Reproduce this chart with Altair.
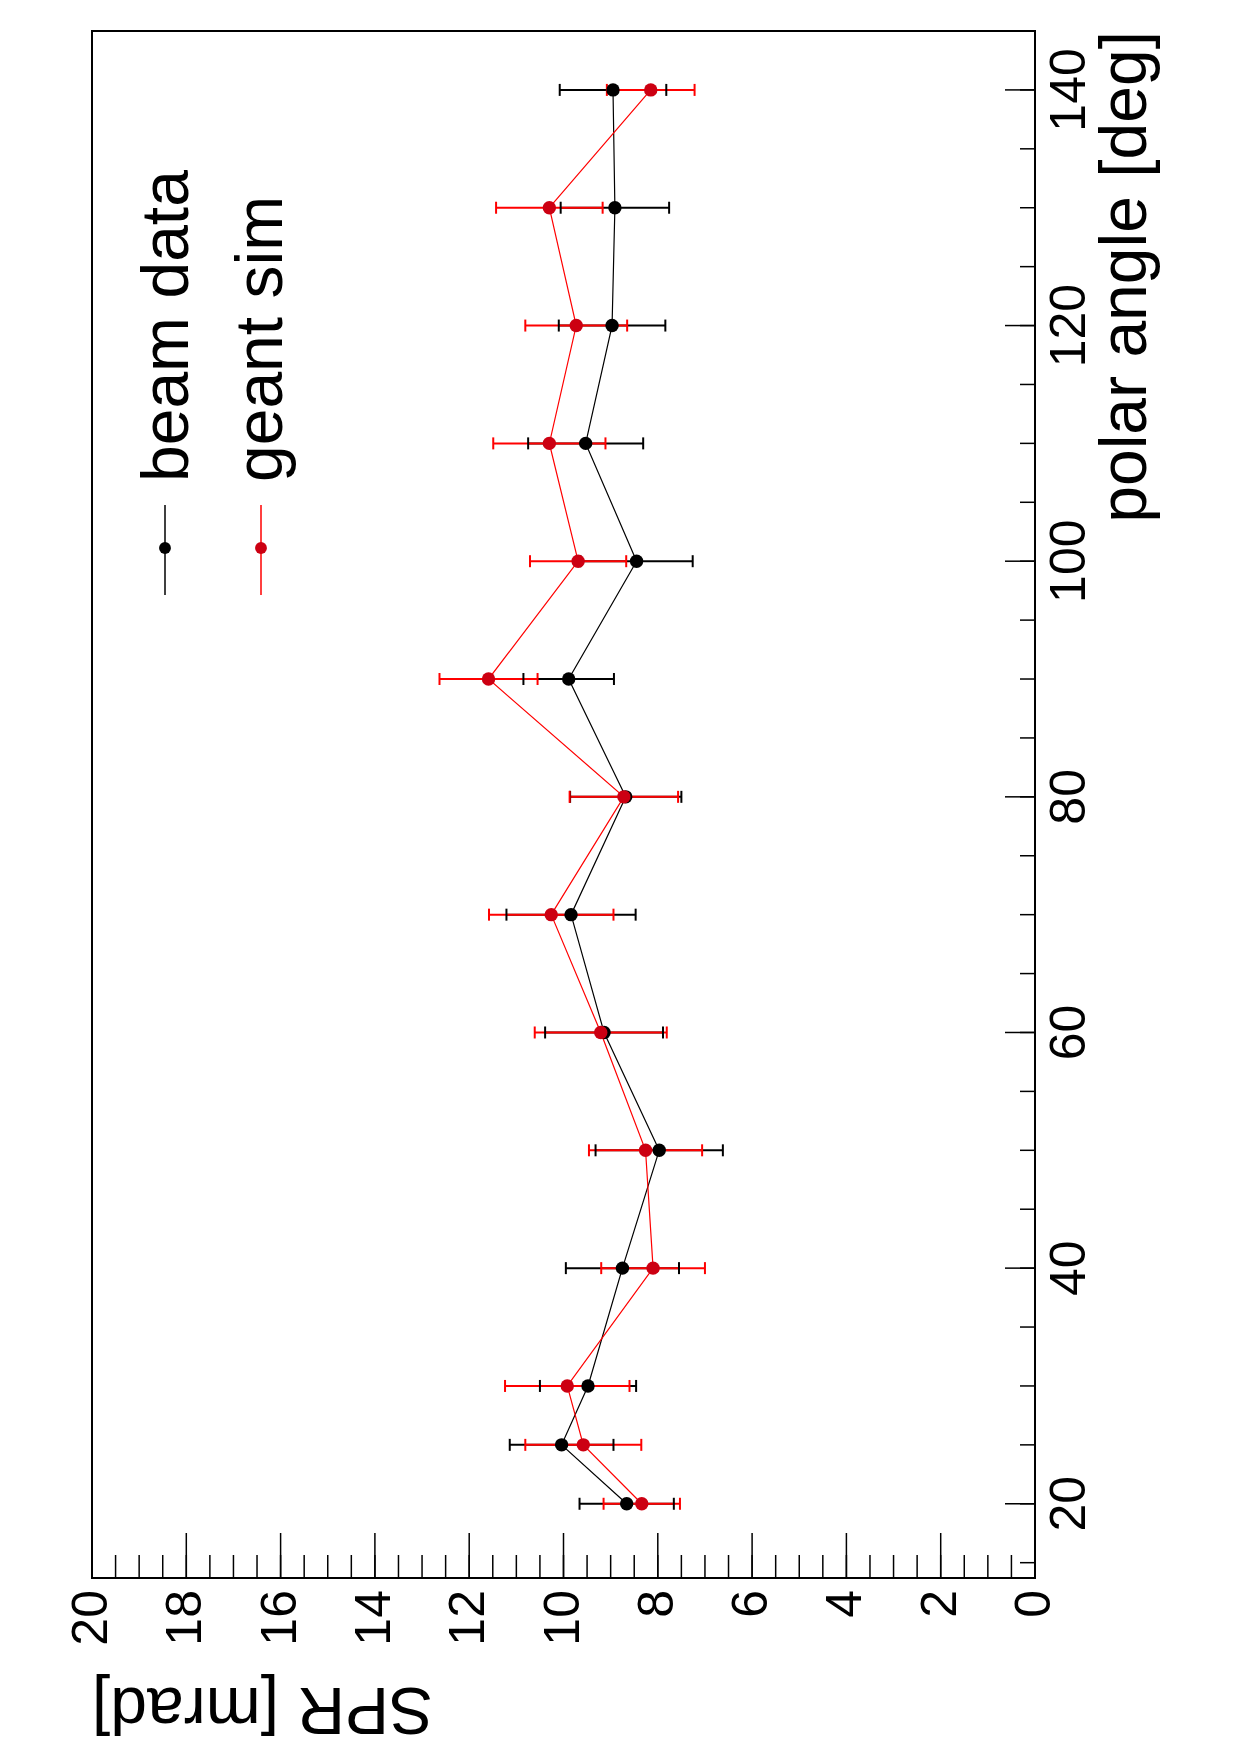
import altair as alt
import pandas as pd

# ---------------- data ----------------
angles = [20, 25, 30, 40, 50, 60, 70, 80, 90, 100, 110, 120, 130, 140]
beam_spr = [8.66, 10.04, 9.48, 8.75, 7.97, 9.14, 9.84, 8.68, 9.89, 8.45, 9.53, 8.97, 8.91, 8.95]
beam_err = [1.00, 1.10, 1.02, 1.20, 1.35, 1.25, 1.37, 1.18, 0.96, 1.19, 1.22, 1.13, 1.15, 1.13]
sim_spr = [8.34, 9.58, 9.92, 8.10, 8.26, 9.21, 10.26, 8.72, 11.59, 9.69, 10.30, 9.73, 10.30, 8.15]
sim_err = [0.81, 1.23, 1.32, 1.10, 1.20, 1.40, 1.32, 1.15, 1.04, 1.02, 1.19, 1.08, 1.13, 0.93]
series_names = ["beam data", "geant sim"]

spr_major_ticks = [0, 2, 4, 6, 8, 10, 12, 14, 16, 18, 20]
spr_minor_ticks = [i * 0.5 for i in range(41)]
angle_major_ticks = [20, 40, 60, 80, 100, 120, 140]
angle_minor_ticks = [15 + 5 * i for i in range(27)]
x_title = "SPR [mrad]"
y_title = "polar angle [deg]"

line_colors = ["#000000", "#ff0000"]
marker_colors = ["#000000", "#cc0012"]
FONT = "Liberation Sans"

W, H = 943, 1547

rows = []
for name, vals, errs in [(series_names[0], beam_spr, beam_err), (series_names[1], sim_spr, sim_err)]:
    for a, v, e in zip(angles, vals, errs):
        rows.append({"series": name, "angle": a, "spr": v, "lo": v - e, "hi": v + e})
df = pd.DataFrame(rows)

xscale = alt.Scale(domain=[0, 20], reverse=True, nice=False, zero=False)
yscale = alt.Scale(domain=[13.7, 145.0], nice=False, zero=False)
stroke_enc = alt.Stroke("series:N", scale=alt.Scale(domain=series_names, range=line_colors), legend=None)
fill_enc = alt.Fill("series:N", scale=alt.Scale(domain=series_names, range=marker_colors), legend=None)

base = alt.Chart(df)

bars = base.mark_rule(strokeWidth=2).encode(
    x=alt.X("lo:Q", scale=xscale, axis=None),
    x2="hi:Q",
    y=alt.Y("angle:Q", scale=yscale, axis=None),
    stroke=stroke_enc,
)
cap_lo = base.mark_rule(strokeWidth=2, yOffset=-6, y2Offset=6).encode(
    x=alt.X("lo:Q", scale=xscale, axis=None),
    y=alt.Y("angle:Q", scale=yscale, axis=None),
    y2="angle:Q",
    stroke=stroke_enc,
)
cap_hi = base.mark_rule(strokeWidth=2, yOffset=-6, y2Offset=6).encode(
    x=alt.X("hi:Q", scale=xscale, axis=None),
    y=alt.Y("angle:Q", scale=yscale, axis=None),
    y2="angle:Q",
    stroke=stroke_enc,
)
lines = base.mark_line(strokeWidth=1.2).encode(
    x=alt.X("spr:Q", scale=xscale, axis=None),
    y=alt.Y("angle:Q", scale=yscale, axis=None),
    stroke=stroke_enc,
    detail="series:N",
    order=alt.Order("angle:Q"),
)
points = base.mark_circle(size=180, opacity=1).encode(
    x=alt.X("spr:Q", scale=xscale, axis=None),
    y=alt.Y("angle:Q", scale=yscale, axis=None),
    fill=fill_enc,
)

# inward tick marks (ROOT style)
def xticks(vals, length):
    return alt.Chart(pd.DataFrame({"v": vals})).mark_rule(color="black", strokeWidth=1.5).encode(
        x=alt.X("v:Q", scale=xscale, axis=None),
        y=alt.value(H), y2=alt.value(H - length),
    )

def yticks(vals, length):
    return alt.Chart(pd.DataFrame({"v": vals})).mark_rule(color="black", strokeWidth=1.5).encode(
        y=alt.Y("v:Q", scale=yscale, axis=None),
        x=alt.value(W), x2=alt.value(W - length),
    )

tick_layers = [xticks(spr_minor_ticks, 23), xticks(spr_major_ticks, 45),
               yticks(angle_minor_ticks, 15), yticks(angle_major_ticks, 30)]

# tick labels (rotated like the reference)
xlab = alt.Chart(pd.DataFrame({"v": spr_major_ticks, "t": [str(v) for v in spr_major_ticks]})).mark_text(
    font=FONT, fontSize=50, angle=270, align="right", baseline="middle", color="black"
).encode(x=alt.X("v:Q", scale=xscale, axis=None), y=alt.value(H + 12), text="t:N")
ylab = alt.Chart(pd.DataFrame({"v": angle_major_ticks, "t": [str(v) for v in angle_major_ticks]})).mark_text(
    font=FONT, fontSize=50, angle=270, align="center", baseline="alphabetic", color="black"
).encode(y=alt.Y("v:Q", scale=yscale, axis=None), x=alt.value(W + 50), text="t:N")

# axis titles
xtit = alt.Chart(pd.DataFrame({"t": [x_title]})).mark_text(
    font=FONT, fontSize=66, angle=180, align="right", baseline="alphabetic", color="black"
).encode(x=alt.value(0), y=alt.value(H + 110), text="t:N")
ytit = alt.Chart(pd.DataFrame({"t": [y_title]})).mark_text(
    font=FONT, fontSize=66, angle=270, align="right", baseline="alphabetic", color="black"
).encode(x=alt.value(W + 111), y=alt.value(0), text="t:N")

# legend
legend_layers = []
leg_x = [73, 169]
text_x = [96, 190]
for i, name in enumerate(series_names):
    ldf = pd.DataFrame({"t": [name]})
    legend_layers.append(alt.Chart(ldf).mark_rule(color=line_colors[i], strokeWidth=1.5).encode(
        x=alt.value(leg_x[i]), y=alt.value(474), y2=alt.value(564)))
    legend_layers.append(alt.Chart(ldf).mark_circle(size=140, opacity=1, color=marker_colors[i]).encode(
        x=alt.value(leg_x[i]), y=alt.value(517)))
    legend_layers.append(alt.Chart(ldf).mark_text(
        font=FONT, fontSize=66, angle=270, align="left", baseline="alphabetic", color="black"
    ).encode(text="t:N", x=alt.value(text_x[i]), y=alt.value(451)))

chart = alt.layer(*tick_layers, bars, lines, cap_lo, cap_hi, points,
                  xlab, ylab, xtit, ytit, *legend_layers).properties(
    width=W, height=H,
    autosize=alt.AutoSizeParams(type="none"),
    padding={"left": 92, "top": 31, "right": 1240 - 92 - W, "bottom": 1754 - 31 - H},
    background="white",
).configure_view(stroke="black", strokeWidth=2)

chart.save("out.html", embed_options={"renderer": "svg", "actions": False})
